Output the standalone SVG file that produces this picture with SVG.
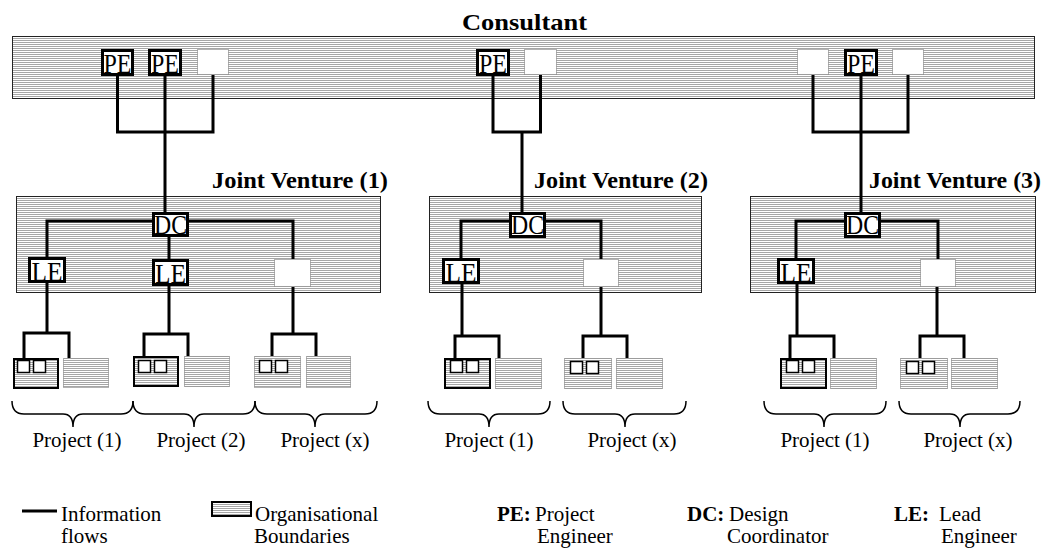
<svg xmlns="http://www.w3.org/2000/svg" width="1046" height="548" viewBox="0 0 1046 548">
<defs>
<pattern id="hatch" width="4" height="2" patternUnits="userSpaceOnUse">
<rect width="4" height="2" fill="#ffffff"/>
<rect width="4" height="1" fill="#a6a6a6"/>
</pattern>
</defs>
<style>
.org{fill:url(#hatch);stroke:#222;stroke-width:1}
.role{fill:#fff;stroke:#000;stroke-width:3}
.empty{fill:#fff;stroke:#666;stroke-width:1;stroke-dasharray:1 1}
.proj{fill:url(#hatch);stroke:#000;stroke-width:2}
.projd{fill:url(#hatch);stroke:#666;stroke-width:1;stroke-dasharray:1 1}
.sq{fill:#fff;stroke:#000;stroke-width:1.5}
.flow{fill:none;stroke:#000;stroke-width:3;stroke-linejoin:miter;stroke-linecap:butt}
.brace{fill:none;stroke:#000;stroke-width:1.5}
.rl{font-size:28px;text-anchor:middle}
.title{font-size:24px;font-weight:bold}
.lbl{font-size:21px;text-anchor:middle}
.leg{font-size:21px}
.legb{font-size:21px;font-weight:bold}
</style>
<rect width="1046" height="548" fill="#fff"/>

<g id="organisations">
<rect id="consultant-box" class="org" x="12.5" y="36.5" width="1022" height="62"/>
<rect id="jv1-box" class="org" x="16.5" y="196.5" width="364" height="96"/>
<rect id="jv2-box" class="org" x="429.5" y="196.5" width="272" height="96"/>
<rect id="jv3-box" class="org" x="750.5" y="196.5" width="285" height="96"/>
</g>

<g id="titles" font-family="Liberation Serif, DejaVu Serif, serif" fill="#000">
<text class="title" x="462" y="30" textLength="125" lengthAdjust="spacingAndGlyphs">Consultant</text>
<text class="title" x="212" y="188" textLength="176" lengthAdjust="spacingAndGlyphs">Joint Venture (1)</text>
<text class="title" x="534" y="188" textLength="174" lengthAdjust="spacingAndGlyphs">Joint Venture (2)</text>
<text class="title" x="869" y="188" textLength="172" lengthAdjust="spacingAndGlyphs">Joint Venture (3)</text>
</g>

<g id="connectors">
<path class="flow" d="M117.5,76 V132 H213 V75 M165,76 V132 M165,132 V212"/>
<path class="flow" d="M493,76 V132 H540.5 V75 M522,132 V212"/>
<path class="flow" d="M813,75 V132 H908 V75 M861,76 V132 M861,132 V212"/>
<path class="flow" d="M47,258 V221 H293 V259 M169,237 V259"/>
<path class="flow" d="M47,283 V333 M24,358 V333 H69 V358"/>
<path class="flow" d="M169,286 V334 M144,356 V334 H188 V356"/>
<path class="flow" d="M293,287 V334 M272,356 V334 H316 V356"/>
<path class="flow" d="M461,259 V221 H601 V259"/>
<path class="flow" d="M462,284 V336 M455,358 V336 H499 V358"/>
<path class="flow" d="M601,287 V336 M583,358 V336 H627 V358"/>
<path class="flow" d="M796,259 V221 H938 V259"/>
<path class="flow" d="M797,284 V336 M790,358 V336 H834 V358"/>
<path class="flow" d="M937,287 V336 M920,358 V336 H964 V358"/>
</g>

<g id="nodes" font-family="Liberation Serif, DejaVu Serif, serif" fill="#000">
<g id="consultant-pe1"><rect class="role" x="102.5" y="50.5" width="30" height="24"/><text class="rl" x="117.5" y="73" textLength="28" lengthAdjust="spacingAndGlyphs">PE</text></g>
<g id="consultant-pe2"><rect class="role" x="149.5" y="50.5" width="31" height="24"/><text class="rl" x="165" y="73" textLength="28" lengthAdjust="spacingAndGlyphs">PE</text></g>
<g id="consultant-empty1"><rect class="empty" x="197.5" y="49.5" width="31" height="25"/></g>
<g id="consultant-pe3"><rect class="role" x="477.5" y="50.5" width="31" height="24"/><text class="rl" x="493" y="73" textLength="28" lengthAdjust="spacingAndGlyphs">PE</text></g>
<g id="consultant-empty2"><rect class="empty" x="524.5" y="49.5" width="32" height="25"/></g>
<g id="consultant-empty3"><rect class="empty" x="797.5" y="49.5" width="31" height="25"/></g>
<g id="consultant-pe4"><rect class="role" x="845.5" y="50.5" width="31" height="24"/><text class="rl" x="861" y="73" textLength="28" lengthAdjust="spacingAndGlyphs">PE</text></g>
<g id="consultant-empty4"><rect class="empty" x="892.5" y="49.5" width="31" height="25"/></g>

<g id="jv1-dc"><rect class="role" x="153.5" y="213.5" width="34" height="22"/><text class="rl" x="170.5" y="234" textLength="33" lengthAdjust="spacingAndGlyphs">DC</text></g>
<g id="jv1-le1"><rect class="role" x="29.5" y="258.5" width="35" height="23"/><text class="rl" x="47" y="281" textLength="31" lengthAdjust="spacingAndGlyphs">LE</text></g>
<g id="jv1-le2"><rect class="role" x="153.5" y="260.5" width="34" height="24"/><text class="rl" x="170.5" y="283" textLength="31" lengthAdjust="spacingAndGlyphs">LE</text></g>
<g id="jv1-empty"><rect class="empty" x="274.5" y="259.5" width="36" height="27"/></g>

<g id="jv2-dc"><rect class="role" x="510.5" y="213.5" width="34" height="23"/><text class="rl" x="527.5" y="234" textLength="33" lengthAdjust="spacingAndGlyphs">DC</text></g>
<g id="jv2-le"><rect class="role" x="443.5" y="259.5" width="35" height="23"/><text class="rl" x="461" y="282" textLength="31" lengthAdjust="spacingAndGlyphs">LE</text></g>
<g id="jv2-empty"><rect class="empty" x="583.5" y="259.5" width="35" height="27"/></g>

<g id="jv3-dc"><rect class="role" x="845.5" y="213.5" width="34" height="23"/><text class="rl" x="862.5" y="234" textLength="33" lengthAdjust="spacingAndGlyphs">DC</text></g>
<g id="jv3-le"><rect class="role" x="778.5" y="259.5" width="35" height="23"/><text class="rl" x="796" y="282" textLength="31" lengthAdjust="spacingAndGlyphs">LE</text></g>
<g id="jv3-empty"><rect class="empty" x="920.5" y="259.5" width="35" height="27"/></g>

<g id="jv1-project1">
<rect class="proj" x="14" y="359" width="44" height="29"/>
<rect class="sq" x="17.5" y="360.5" width="12" height="12"/><rect class="sq" x="33.5" y="360.5" width="12" height="12"/>
<rect class="projd" x="63.5" y="358.5" width="45" height="29"/>
</g>
<g id="jv1-project2">
<rect class="proj" x="134" y="357" width="44" height="29"/>
<rect class="sq" x="138.5" y="360.5" width="12" height="12"/><rect class="sq" x="154.5" y="360.5" width="12" height="12"/>
<rect class="projd" x="184.5" y="356.5" width="45" height="30"/>
</g>
<g id="jv1-projectx">
<rect class="projd" x="254.5" y="356.5" width="46" height="31"/>
<rect class="sq" x="259.5" y="360.5" width="12" height="12"/><rect class="sq" x="275.5" y="360.5" width="12" height="12"/>
<rect class="projd" x="306.5" y="356.5" width="44" height="31"/>
</g>
<g id="jv2-project1">
<rect class="proj" x="445" y="359" width="45" height="29"/>
<rect class="sq" x="450.5" y="360.5" width="12" height="12"/><rect class="sq" x="466.5" y="360.5" width="12" height="12"/>
<rect class="projd" x="495.5" y="358.5" width="46" height="30"/>
</g>
<g id="jv2-projectx">
<rect class="projd" x="564.5" y="358.5" width="47" height="30"/>
<rect class="sq" x="570.5" y="361.5" width="12" height="12"/><rect class="sq" x="586.5" y="361.5" width="12" height="12"/>
<rect class="projd" x="616.5" y="358.5" width="46" height="30"/>
</g>
<g id="jv3-project1">
<rect class="proj" x="781" y="359" width="45" height="29"/>
<rect class="sq" x="786.5" y="360.5" width="12" height="12"/><rect class="sq" x="802.5" y="360.5" width="12" height="12"/>
<rect class="projd" x="830.5" y="358.5" width="46" height="30"/>
</g>
<g id="jv3-projectx">
<rect class="projd" x="900.5" y="358.5" width="47" height="30"/>
<rect class="sq" x="906.5" y="361.5" width="12" height="12"/><rect class="sq" x="922.5" y="361.5" width="12" height="12"/>
<rect class="projd" x="951.5" y="358.5" width="46" height="30"/>
</g>
</g>

<g id="braces">
<path class="brace" d="M12,401 Q12,414 24,414 H63 Q73,414 73,427 Q73,414 83,414 H121 Q133,414 133,401"/>
<path class="brace" d="M133,401 Q133,414 145,414 H184 Q194,414 194,427 Q194,414 204,414 H243 Q255,414 255,401"/>
<path class="brace" d="M255,401 Q255,414 267,414 H305 Q315,414 315,427 Q315,414 325,414 H365 Q377,414 377,401"/>
<path class="brace" d="M428,401 Q428,414 440,414 H479 Q489,414 489,427 Q489,414 499,414 H538 Q550,414 550,401"/>
<path class="brace" d="M563,401 Q563,414 575,414 H615 Q625,414 625,427 Q625,414 635,414 H674 Q686,414 686,401"/>
<path class="brace" d="M764,401 Q764,414 776,414 H814 Q824,414 824,427 Q824,414 834,414 H874 Q886,414 886,401"/>
<path class="brace" d="M899,401 Q899,414 911,414 H950 Q960,414 960,427 Q960,414 970,414 H1008 Q1020,414 1020,401"/>
</g>

<g id="project-labels" font-family="Liberation Serif, DejaVu Serif, serif" fill="#000">
<text class="lbl" x="77" y="447">Project (1)</text>
<text class="lbl" x="201" y="447">Project (2)</text>
<text class="lbl" x="325" y="447">Project (x)</text>
<text class="lbl" x="489" y="447">Project (1)</text>
<text class="lbl" x="632" y="447">Project (x)</text>
<text class="lbl" x="825" y="447">Project (1)</text>
<text class="lbl" x="968" y="447">Project (x)</text>
</g>

<g id="legend" font-family="Liberation Serif, DejaVu Serif, serif" fill="#000">
<path class="flow" d="M22,511 H57"/>
<text class="leg" x="61" y="521">Information</text>
<text class="leg" x="61" y="543">flows</text>
<rect class="proj" x="212" y="502" width="39" height="14"/>
<text class="leg" x="255" y="521">Organisational</text>
<text class="leg" x="254" y="543">Boundaries</text>
<text class="legb" x="497" y="521">PE:</text>
<text class="leg" x="535" y="521">Project</text>
<text class="leg" x="537" y="543">Engineer</text>
<text class="legb" x="687" y="521">DC:</text>
<text class="leg" x="729" y="521">Design</text>
<text class="leg" x="727" y="543">Coordinator</text>
<text class="legb" x="894" y="521">LE:</text>
<text class="leg" x="939" y="521">Lead</text>
<text class="leg" x="941" y="543">Engineer</text>
</g>
</svg>
